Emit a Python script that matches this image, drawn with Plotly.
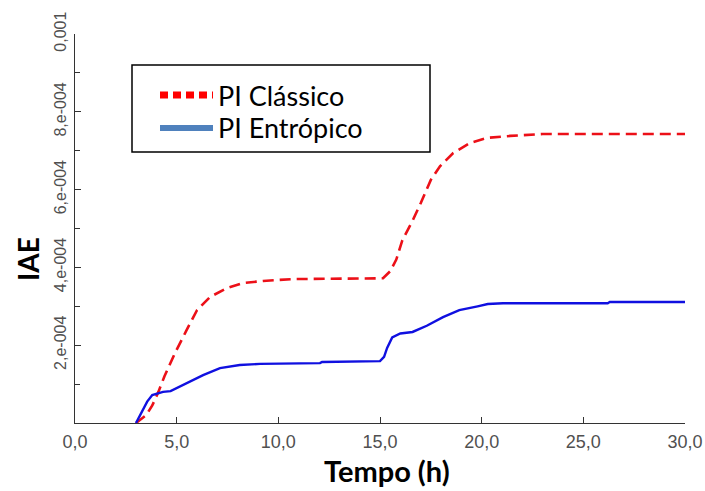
import plotly.graph_objects as go

# Integral of absolute error (IAE) over time for the two PI controllers
tempo_classico = [3.0, 3.5, 3.8, 4.1, 4.4, 4.92, 5.5, 6.0, 6.64, 7.48, 8.26, 9.25, 10.7,
                  12.0, 15.15, 15.5, 15.8, 16.1, 16.6, 17.0, 17.5, 17.95, 18.6, 19.43,
                  20.26, 21.4, 23.0, 30.0]
iae_classico = [0.0, 0.2e-4, 0.45e-4, 0.8e-4, 1.2e-4, 1.8e-4, 2.4e-4, 2.9e-4, 3.24e-4,
                3.47e-4, 3.6e-4, 3.65e-4, 3.7e-4, 3.71e-4, 3.72e-4, 3.9e-4, 4.2e-4,
                4.7e-4, 5.2e-4, 5.65e-4, 6.25e-4, 6.6e-4, 6.94e-4, 7.2e-4, 7.33e-4,
                7.38e-4, 7.43e-4, 7.43e-4]

tempo_entropico = [3.0, 3.2, 3.35, 3.55, 3.8, 4.33, 4.7, 5.5, 6.3, 7.13, 8.1, 9.1, 12.05,
                   12.15, 15.0, 15.2, 15.35, 15.6, 16.0, 16.6, 17.3, 18.1, 18.9, 19.8,
                   20.3, 21.05, 26.2, 26.3, 30.0]
iae_entropico = [0.0, 0.2e-4, 0.35e-4, 0.55e-4, 0.72e-4, 0.8e-4, 0.82e-4, 1.03e-4,
                 1.23e-4, 1.41e-4, 1.49e-4, 1.52e-4, 1.54e-4, 1.57e-4, 1.59e-4, 1.7e-4,
                 1.93e-4, 2.2e-4, 2.3e-4, 2.34e-4, 2.5e-4, 2.72e-4, 2.9e-4, 3.0e-4,
                 3.06e-4, 3.08e-4, 3.08e-4, 3.11e-4, 3.11e-4]

x_ticks = [0, 5, 10, 15, 20, 25, 30]
x_tick_labels = ["0,0", "5,0", "10,0", "15,0", "20,0", "25,0", "30,0"]
y_ticks = [2e-4, 4e-4, 6e-4, 8e-4, 1e-3]
y_tick_labels = ["2,e-004", "4,e-004", "6,e-004", "8,e-004", "0,001"]

series_names = ["PI Clássico", "PI Entrópico"]

fig = go.Figure()
fig.add_trace(go.Scatter(x=tempo_classico, y=iae_classico, mode="lines",
                         name=series_names[0],
                         line=dict(color="#ec1018", width=2.6, dash="11px,6px")))
fig.add_trace(go.Scatter(x=tempo_entropico, y=iae_entropico, mode="lines",
                         name=series_names[1],
                         line=dict(color="#1010e0", width=2.4)))

axis_color = "#333333"
x_tick_font = dict(family="Liberation Sans, Arial, sans-serif", size=18, color="#505050")
y_tick_font = dict(family="Liberation Sans, Arial, sans-serif", size=16, color="#505050")

fig.update_xaxes(range=[0, 30], tickvals=x_ticks, ticktext=x_tick_labels,
                 automargin=False,
                 showline=True, linecolor=axis_color, linewidth=1.3,
                 ticks="inside", ticklen=6, tickcolor=axis_color, tickwidth=1.2,
                 showgrid=False, zeroline=False, tickfont=x_tick_font,
                 ticklabelstandoff=2)
fig.update_yaxes(range=[0, 1e-3], tickvals=y_ticks, ticktext=y_tick_labels,
                 tickangle=-90, automargin=False,
                 showline=True, linecolor=axis_color, linewidth=1.3,
                 ticks="inside", ticklen=6, tickcolor=axis_color, tickwidth=1.2,
                 minor=dict(ticks="inside", ticklen=5, dtick=1e-4,
                            tickcolor=axis_color, tickwidth=1.2),
                 showgrid=False, zeroline=False, tickfont=y_tick_font,
                 ticklabelstandoff=1)

# Legend drawn as a framed box with line samples
W, H = 705, 491
L, R, T, B = 75, 20, 34, 68
pw, ph = W - L - R, H - T - B


def px(x):
    return (x - L) / pw


def py(y):
    return (H - B - y) / ph


legend_font = dict(family="Lato, sans-serif", size=27, color="#000000")
shapes = [
    dict(type="rect", xref="paper", yref="paper",
         x0=px(132), x1=px(430), y0=py(152), y1=py(65),
         line=dict(color="#000000", width=1.5), fillcolor="white"),
    dict(type="line", xref="paper", yref="paper",
         x0=px(160), x1=px(213), y0=py(95), y1=py(95),
         line=dict(color="#ff0000", width=7, dash="8px,5px")),
    dict(type="line", xref="paper", yref="paper",
         x0=px(160), x1=px(213), y0=py(128), y1=py(128),
         line=dict(color="#4f81bd", width=6)),
]
annotations = [
    dict(text=series_names[0], xref="paper", yref="paper", x=px(216), y=py(95),
         xanchor="left", yanchor="middle", showarrow=False, font=legend_font),
    dict(text=series_names[1], xref="paper", yref="paper", x=px(216), y=py(128),
         xanchor="left", yanchor="middle", showarrow=False, font=legend_font),
    dict(text="<b>Tempo (h)</b>", xref="paper", yref="paper", x=px(387), y=py(470),
         xanchor="center", yanchor="middle", showarrow=False,
         font=dict(family="Lato, sans-serif", size=29, color="#000000")),
    dict(text="<b>IAE</b>", xref="paper", yref="paper", x=px(28), y=py(259),
         xanchor="center", yanchor="middle", showarrow=False, textangle=-90,
         font=dict(family="Lato, sans-serif", size=28, color="#000000")),
]

fig.update_layout(width=W, height=H, margin=dict(l=L, r=R, t=T, b=B),
                  paper_bgcolor="white", plot_bgcolor="white",
                  showlegend=False, shapes=shapes, annotations=annotations)

fig.write_html("out.html")
